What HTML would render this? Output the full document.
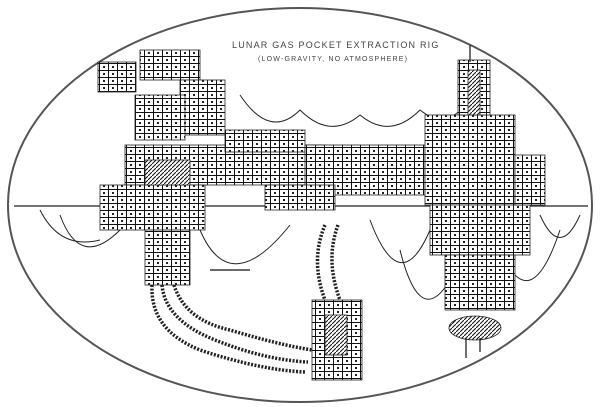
<!DOCTYPE html>
<html><head><style>
html,body{margin:0;padding:0;background:#fff;width:600px;height:407px;overflow:hidden}
svg{display:block}
text{font-family:"Liberation Sans",sans-serif;fill:#444;letter-spacing:1.2px}
</style></head><body>
<svg width="600" height="407" viewBox="0 0 600 407">
<defs>
<pattern id="m" width="9" height="7" patternUnits="userSpaceOnUse">
<rect width="9" height="7" fill="#fff"/>
<rect x="0" y="0" width="9" height="1" fill="#111"/>
<rect x="0" y="0" width="1" height="7" fill="#111"/>
<rect x="4" y="3" width="2" height="2" fill="#222"/>
</pattern>
<pattern id="h" width="4" height="4" patternUnits="userSpaceOnUse">
<rect width="4" height="4" fill="#fff"/>
<path d="M0 4L4 0" stroke="#111" stroke-width="1"/>
</pattern>
</defs>
<ellipse cx="300" cy="205" rx="292" ry="197" fill="#fff" stroke="#555" stroke-width="2"/>
<text x="232" y="48" font-size="9">LUNAR GAS POCKET EXTRACTION RIG</text>
<text x="258" y="61" font-size="7">(LOW-GRAVITY, NO ATMOSPHERE)</text>
<line x1="14" y1="206" x2="588" y2="206" stroke="#222" stroke-width="1.2"/>
<g fill="none" stroke="#222" stroke-width="1">
<path d="M240 95 Q270 140 300 110 Q330 140 360 115 Q390 140 420 110 Q445 130 465 105"/>
<path d="M60 215 Q80 270 120 230"/>
<path d="M40 210 Q60 250 100 240"/>
<path d="M200 230 Q230 300 290 225"/>
<path d="M370 220 Q400 300 430 230"/>
<path d="M540 215 Q560 260 580 215"/>
<path d="M500 250 Q530 320 560 230"/>
<path d="M400 250 Q420 330 450 280"/>
</g>
<g fill="none" stroke="#222" stroke-width="3.5" stroke-dasharray="2 1.5">
<path d="M152 285 Q150 330 200 350 Q260 370 305 372"/>
<path d="M162 285 Q165 320 215 340 Q265 360 308 362"/>
<path d="M174 285 Q185 320 230 330 Q280 345 312 350"/>
<path d="M325 225 Q310 260 325 300"/>
<path d="M338 225 Q325 260 340 300"/>
</g>
<g fill="url(#m)" stroke="#222" stroke-width="0.8">
<rect x="98" y="62" width="38" height="30"/>
<rect x="140" y="50" width="60" height="30"/>
<rect x="180" y="80" width="45" height="55"/>
<rect x="135" y="95" width="50" height="45"/>
<rect x="125" y="145" width="200" height="40"/>
<rect x="100" y="185" width="105" height="45"/>
<rect x="145" y="230" width="45" height="55"/>
<rect x="225" y="130" width="80" height="22"/>
<rect x="305" y="145" width="120" height="50"/>
<rect x="265" y="185" width="70" height="25"/>
<rect x="425" y="115" width="90" height="90"/>
<rect x="458" y="60" width="32" height="55"/>
<rect x="430" y="205" width="100" height="50"/>
<rect x="445" y="255" width="70" height="55"/>
<rect x="312" y="300" width="50" height="80"/>
<rect x="515" y="155" width="30" height="50"/>
</g>
<g fill="url(#h)" stroke="#222" stroke-width="0.8">
<ellipse cx="475" cy="328" rx="26" ry="12"/>
<rect x="468" y="70" width="12" height="45"/>
<rect x="145" y="160" width="45" height="25"/>
<rect x="325" y="315" width="22" height="40"/>
</g>
<g stroke="#111" stroke-width="1.2">
<line x1="470" y1="45" x2="470" y2="62"/>
<line x1="466" y1="338" x2="466" y2="358"/>
<line x1="480" y1="338" x2="480" y2="352"/>
<line x1="210" y1="270" x2="250" y2="270"/>
</g>
</svg>
</body></html>
